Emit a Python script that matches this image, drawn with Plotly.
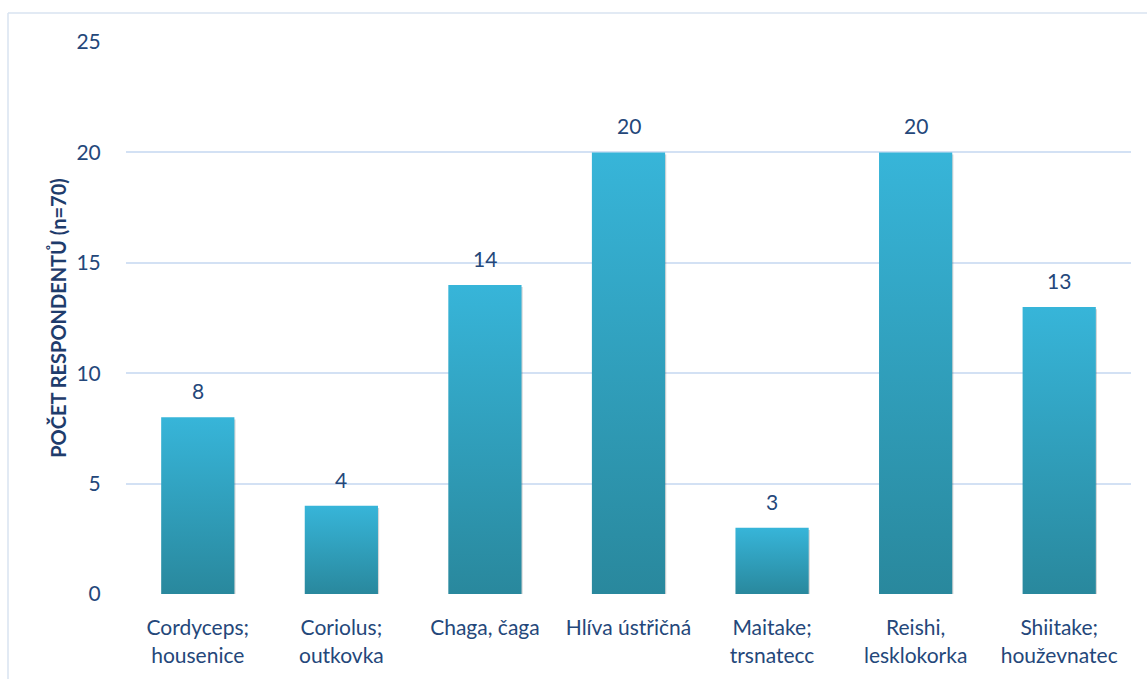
import plotly.graph_objects as go

# Survey data: number of respondents per mushroom species
categories = [
    "Cordyceps;<br>housenice",
    "Coriolus;<br>outkovka",
    "Chaga, čaga",
    "Hlíva ústřičná",
    "Maitake;<br>trsnatecc",
    "Reishi,<br>lesklokorka",
    "Shiitake;<br>houževnatec",
]
counts = [8, 4, 14, 20, 3, 20, 13]
y_ticks = [0, 5, 10, 15, 20, 25]

TEXT = "#24477a"
GRID = "#d3e1f4"
BAR_TOP = "#37b5d9"
BAR_BOTTOM = "#29889d"
FONT = "Lato"
BAR_W = 0.51

fig = go.Figure()

# each bar is a filled polygon so it can carry a vertical gradient
for i, v in enumerate(counts):
    x0, x1 = i - BAR_W / 2, i + BAR_W / 2
    # soft shadow under the bar
    fig.add_trace(go.Scatter(
        x=[x0 + 0.008, x1 + 0.008, x1 + 0.008, x0 + 0.008, x0 + 0.008],
        y=[-0.18, -0.18, v - 0.1, v - 0.1, -0.18],
        fill="toself", mode="lines", line=dict(width=0),
        fillcolor="rgba(70,70,70,0.22)", hoverinfo="skip", showlegend=False,
    ))
    fig.add_trace(go.Scatter(
        x=[x0, x1, x1, x0, x0],
        y=[0, 0, v, v, 0],
        fill="toself", mode="lines", line=dict(width=0),
        fillgradient=dict(type="vertical",
                          colorscale=[[0, BAR_BOTTOM], [1, BAR_TOP]]),
        hoverinfo="skip", showlegend=False,
    ))
    fig.add_annotation(x=i, y=v, text=str(v), showarrow=False,
                       yanchor="bottom", yshift=12,
                       font=dict(family=FONT, size=21, color=TEXT))

fig.update_layout(
    width=1147, height=679,
    margin=dict(l=126, r=16, t=42, b=85),
    paper_bgcolor="white", plot_bgcolor="white",
    font=dict(family=FONT, size=21, color=TEXT),
    showlegend=False,
    xaxis=dict(
        range=[-0.5, len(categories) - 0.5],
        tickvals=list(range(len(categories))),
        ticktext=categories,
        showgrid=False, zeroline=False, showline=False,
        ticks="outside", ticklen=15, tickcolor="rgba(0,0,0,0)",
        tickfont=dict(family=FONT, size=21, color=TEXT),
        fixedrange=True,
    ),
    yaxis=dict(
        range=[0, 25],
        tickvals=y_ticks,
        showgrid=True, gridcolor=GRID, gridwidth=1.6,
        zeroline=False, showline=False,
        ticks="outside", ticklen=20, tickcolor="rgba(0,0,0,0)",
        tickfont=dict(family=FONT, size=21, color=TEXT),
        title=dict(text="<b>POČET RESPONDENTŮ (n=70)</b>",
                   font=dict(family=FONT, size=20, color="#1f3c6c"),
                   standoff=4),
        fixedrange=True,
    ),
    shapes=[
        # outer frame (left and top edges)
        dict(type="line", xref="paper", yref="paper",
             x0=(8 - 126) / 1005, x1=(8 - 126) / 1005,
             y0=-0.2, y1=(594 - 13) / 552,
             line=dict(color="#d8e3f1", width=1.5)),
        dict(type="line", xref="paper", yref="paper",
             x0=(8 - 126) / 1005, x1=1.05,
             y0=(594 - 13) / 552, y1=(594 - 13) / 552,
             line=dict(color="#d8e3f1", width=1.5)),
    ],
)

fig.write_html("out.html")
